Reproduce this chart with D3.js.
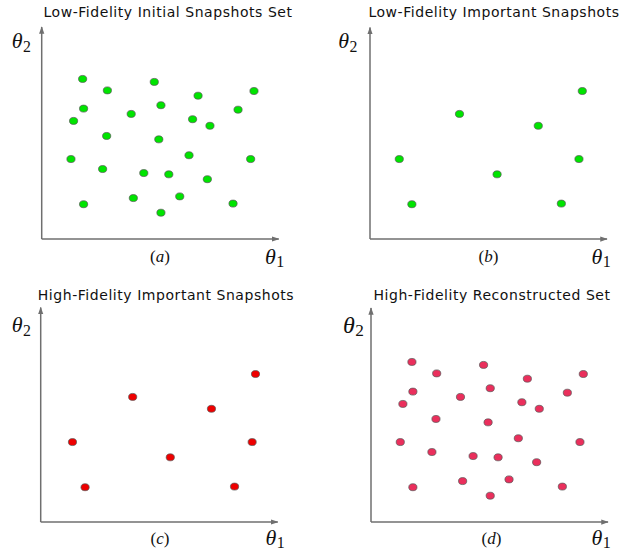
<!DOCTYPE html>
<html>
<head>
<meta charset="utf-8">
<script src="https://cdn.jsdelivr.net/npm/d3@7"></script>
<style>
  body { margin: 0; background: #fff; }
  .title { font-family: "DejaVu Sans", sans-serif; font-size: 14px; letter-spacing: 0.55px; fill: #111; }
  .math { font-family: "Liberation Serif", "DejaVu Serif", serif; fill: #111; }
</style>
</head>
<body>
<svg id="chart" width="623" height="552"></svg>
<script>
// snapshot locations in parameter space (theta1, theta2), axis runs 0..10
const theta1 = [1.72, 2.76, 4.73, 6.57, 8.92, 1.76, 5.01, 3.76, 8.25, 1.34, 6.34, 7.07, 2.73,
                4.92, 1.23, 6.19, 8.78, 2.56, 4.29, 5.34, 6.96, 1.76, 3.85, 5.80, 8.04, 5.01];
const theta2 = [7.55, 7.01, 7.41, 6.76, 6.98, 6.15, 6.31, 5.90, 6.10, 5.57, 5.65, 5.34, 4.86,
                4.70, 3.77, 3.95, 3.77, 3.30, 3.11, 3.05, 2.82, 1.64, 1.93, 2.01, 1.67, 1.24];
// indices of the important snapshots picked from the initial set
const important = [14, 21, 7, 19, 11, 4, 16, 24];

const titles = ["Low-Fidelity Initial Snapshots Set", "Low-Fidelity Important Snapshots",
                "High-Fidelity Important Snapshots", "High-Fidelity Reconstructed Set"];
const tags = ["a", "b", "c", "d"];
const colors = ["#00e400", "#00e400", "#ee0000", "#ea2f5c"];
const subsets = ["all", "important", "important", "all"];

// panel layout: origin of the axes, label positions
const panels = [
  { ox: 41.7, oy: 239, top: 27, dx: 0,   tx: 168, ty: 17,  t2x: 11.7, t2y: 48,  t1x: 265, t1y: 264, lx: 160, ly: 262 },
  { ox: 370,  oy: 239, top: 27.5, dx: 0, tx: 494, ty: 17,  t2x: 338.3, t2y: 48, t1x: 591.5, t1y: 264, lx: 488.5, ly: 262 },
  { ox: 40.7, oy: 522, top: 307.5, dx: 2.5, tx: 166, ty: 299.5, t2x: 11.7, t2y: 332, t1x: 265.5, t1y: 545, lx: 160, ly: 544 },
  { ox: 371,  oy: 522, top: 308, dx: 0,  tx: 492, ty: 299.5, t2x: 343, t2y: 332.5, t1x: 591.5, t1y: 545, lx: 491.5, ly: 544 }
];

const svg = d3.select("#chart");

svg.append("defs").append("marker")
    .attr("id", "arrow")
    .attr("viewBox", "0 0 10 10")
    .attr("refX", 9).attr("refY", 5)
    .attr("markerWidth", 5).attr("markerHeight", 5)
    .attr("orient", "auto")
  .append("path")
    .attr("d", "M0,1.5L10,5L0,8.5Z")
    .attr("fill", "#6f6f6f");

const points = theta1.map((t, i) => ({ t1: t, t2: theta2[i] }));

panels.forEach((p, k) => {
  const x = d3.scaleLinear().domain([0, 10]).range([p.ox + p.dx, p.ox + p.dx + 238]);
  const y = d3.scaleLinear().domain([0, 10]).range([p.oy, p.oy - 212]);
  const g = svg.append("g");

  g.append("text").attr("class", "title")
      .attr("x", p.tx).attr("y", p.ty)
      .attr("text-anchor", "middle")
      .text(titles[k]);

  // axes with arrow heads
  g.append("line")
      .attr("x1", p.ox).attr("y1", p.oy)
      .attr("x2", p.ox + 237).attr("y2", p.oy)
      .attr("stroke", "#6f6f6f").attr("stroke-width", 1.5)
      .attr("marker-end", "url(#arrow)");
  g.append("line")
      .attr("x1", p.ox).attr("y1", p.oy)
      .attr("x2", p.ox).attr("y2", p.top)
      .attr("stroke", "#6f6f6f").attr("stroke-width", 1.5)
      .attr("marker-end", "url(#arrow)");

  const data = subsets[k] === "all" ? points : important.map(i => points[i]);

  g.selectAll("ellipse")
    .data(data)
    .join("ellipse")
      .attr("cx", d => x(d.t1))
      .attr("cy", d => y(d.t2))
      .attr("rx", 4.1)
      .attr("ry", 3.5)
      .attr("fill", colors[k])
      .attr("stroke", "#555")
      .attr("stroke-width", 0.7);

  const big = k === 3 ? 24 : 22;
  const t2 = g.append("text").attr("class", "math")
      .attr("x", p.t2x).attr("y", p.t2y);
  t2.append("tspan").attr("font-style", "italic").attr("font-size", big).text("θ");
  t2.append("tspan").attr("font-size", big * 0.72).attr("dx", 0.5).attr("dy", 3.5).text("2");

  const t1 = g.append("text").attr("class", "math")
      .attr("x", p.t1x).attr("y", p.t1y);
  t1.append("tspan").attr("font-style", "italic").attr("font-size", 22).text("θ");
  t1.append("tspan").attr("font-size", 16).attr("dx", 0.5).attr("dy", 3).text("1");

  const lab = g.append("text").attr("class", "math")
      .attr("x", p.lx).attr("y", p.ly)
      .attr("text-anchor", "middle")
      .attr("font-size", 17);
  lab.append("tspan").text("(");
  lab.append("tspan").attr("font-style", "italic").text(tags[k]);
  lab.append("tspan").text(")");
});
</script>
</body>
</html>
